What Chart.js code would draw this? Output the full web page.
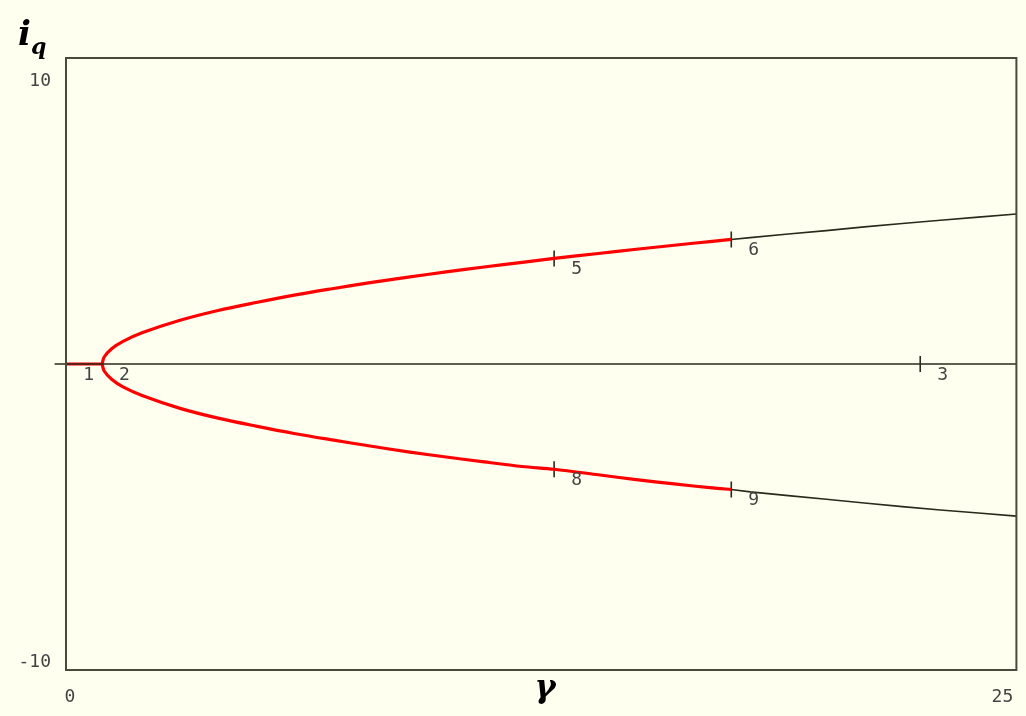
<!DOCTYPE html>
<html>
<head>
<meta charset="utf-8">
<script src="https://cdn.jsdelivr.net/npm/chart.js@4/dist/chart.umd.min.js"></script>
<style>
  html, body { margin: 0; padding: 0; background: #fffff0; }
  #wrap { width: 1026px; height: 716px; }
</style>
</head>
<body>
<div id="wrap"><canvas id="bif_plot" width="1026" height="716"></canvas></div>
<script>
// gamma values
const upperRedX = [0.95, 1.0, 1.2, 1.5, 2, 3, 4, 5, 6, 7, 8, 9, 10, 11, 12, 12.84, 14, 15, 16, 17, 17.5];
const upperRedY = [0, 0.22, 0.5, 0.74, 1.02, 1.43, 1.75, 2.01, 2.25, 2.46, 2.66, 2.84, 3.01, 3.17, 3.32, 3.45, 3.61, 3.75, 3.88, 4.01, 4.07];
const lowerRedY = [0, -0.22, -0.5, -0.75, -1.03, -1.45, -1.77, -2.03, -2.27, -2.48, -2.68, -2.87, -3.04, -3.2, -3.35, -3.44, -3.62, -3.78, -3.92, -4.05, -4.1];
const upperBlackX = [17.5, 18, 19, 20, 21, 22, 23, 24, 25];
const upperBlackY = [4.07, 4.13, 4.25, 4.36, 4.48, 4.59, 4.7, 4.8, 4.9];
const lowerBlackY = [-4.1, -4.18, -4.3, -4.42, -4.54, -4.66, -4.77, -4.87, -4.97];
const trivialRedX = [0, 0.95];
const trivialBlackX = [-0.3, 25];

// labelled points
const ptNames = ['1', '2', '5', '6', '8', '9', '3'];
const ptX = [0.35, 0.95, 12.84, 17.5, 12.84, 17.5, 22.47];
const ptY = [0, 0, 3.45, 4.07, -3.44, -4.1, 0];
const tickPts = [2, 3, 4, 5, 6]; // indices that get a little vertical tick

const xTickValues = [0, 25];
const yTickValues = [10, -10];

function xy(xs, ys) {
  return xs.map((x, i) => ({x: x, y: ys[i]}));
}

const decor = {
  id: 'decor',
  afterDraw(chart) {
    const c = chart.ctx, a = chart.chartArea;
    const xs = chart.scales.x, ys = chart.scales.y;
    c.save();
    // frame
    c.strokeStyle = '#4a4a3a';
    c.lineWidth = 2;
    c.strokeRect(a.left, a.top, a.right - a.left, a.bottom - a.top);

    // tick labels
    c.fillStyle = '#444';
    c.font = '18px "DejaVu Sans Mono"';
    c.textAlign = 'right';
    c.textBaseline = 'middle';
    c.fillText(String(yTickValues[0]), 51, ys.getPixelForValue(yTickValues[0]) + 23);
    c.fillText(String(yTickValues[1]), 51, ys.getPixelForValue(yTickValues[1]) - 8);
    c.textAlign = 'center';
    c.fillText(String(xTickValues[0]), xs.getPixelForValue(xTickValues[0]) + 4, 697);
    c.fillText(String(xTickValues[1]), xs.getPixelForValue(xTickValues[1]) - 14, 697);

    // point labels
    c.textAlign = 'left';
    for (let i = 0; i < ptNames.length; i++) {
      const px = xs.getPixelForValue(ptX[i]), py = ys.getPixelForValue(ptY[i]);
      c.fillText(ptNames[i], px + (i == 0 ? 4 : 17), py + 11);
    }

    // axis titles
    c.fillStyle = '#000';
    c.textBaseline = 'alphabetic';
    c.font = 'italic bold 34px "DejaVu Serif"';
    c.fillText('i', 18, 45);
    c.font = 'italic bold 22px "DejaVu Serif"';
    c.fillText('q', 31, 54);
    c.font = 'italic bold 32px "DejaVu Serif"';
    c.textAlign = 'center';
    c.fillText('\u03B3', 545, 697);
    c.restore();
  }
};

new Chart(document.getElementById('bif_plot'), {
  type: 'scatter',
  data: {
    datasets: [
      {data: xy(trivialBlackX, [0, 0]), showLine: true, borderColor: '#2a2a1a', borderWidth: 1.6, pointRadius: 0, clip: false},
      {data: xy(upperBlackX, upperBlackY), showLine: true, borderColor: '#2a2a1a', borderWidth: 1.6, pointRadius: 0},
      {data: xy(upperBlackX, lowerBlackY), showLine: true, borderColor: '#2a2a1a', borderWidth: 1.6, pointRadius: 0},
      {data: xy(trivialRedX, [0, 0]), showLine: true, borderColor: '#ff0000', borderWidth: 3.2, pointRadius: 0},
      {data: xy(upperRedX, upperRedY), showLine: true, borderColor: '#ff0000', borderWidth: 3.2, pointRadius: 0, tension: 0.3},
      {data: xy(upperRedX, lowerRedY), showLine: true, borderColor: '#ff0000', borderWidth: 3.2, pointRadius: 0, tension: 0.3},
      {
        data: tickPts.map(i => ({x: ptX[i], y: ptY[i]})),
        showLine: false,
        pointStyle: 'line',
        rotation: 90,
        pointRadius: 8,
        borderColor: '#2a2a1a',
        borderWidth: 1.6,
      }
    ]
  },
  options: {
    responsive: false,
    animation: false,
    plugins: {
      legend: {display: false},
      tooltip: {enabled: false},
    },
    layout: {padding: {left: 66, right: 9, top: 58, bottom: 46}},
    scales: {
      x: {
        type: 'linear', min: 0, max: 25,
        grid: {display: false, drawTicks: false},
        border: {display: false},
        ticks: {display: false},
      },
      y: {
        type: 'linear', min: -10, max: 10,
        grid: {display: false, drawTicks: false},
        border: {display: false},
        ticks: {display: false},
      }
    }
  },
  plugins: [decor]
});
</script>
</body>
</html>
